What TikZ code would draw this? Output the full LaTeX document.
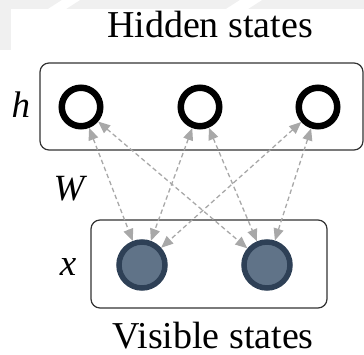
\documentclass[tikz,border=0pt]{standalone}
\usepackage{fontspec}
\setmainfont{Liberation Serif}
\newfontfamily\labelface{Liberation Serif}
\usetikzlibrary{arrows.meta}
\definecolor{visfill}{RGB}{96,115,136}
\definecolor{visedge}{RGB}{46,64,86}
\definecolor{linkgray}{RGB}{168,168,168}
\definecolor{haze}{RGB}{240,240,240}
\begin{document}
\begin{tikzpicture}[x=1pt,y=-1pt,
  hidden/.style={circle,draw=black,line width=6.5pt,minimum size=38.5pt,inner sep=0pt},
  visible/.style={circle,draw=visedge,fill=visfill,line width=5.5pt,minimum size=46pt,inner sep=0pt},
  layerbox/.style={draw=black!80,line width=1.2pt,rounded corners=9pt},
  link/.style={draw=linkgray,line width=1.3pt,dash pattern=on 4.5pt off 3pt,
    {Triangle[length=12pt,width=10pt]}-{Triangle[length=12pt,width=10pt]}},
  title/.style={font=\labelface\fontsize{38}{42}\selectfont,anchor=base},
  sym/.style={font=\labelface\fontsize{37}{42}\selectfont\itshape,anchor=base}]
\useasboundingbox (0,0) rectangle (364,355);
% faint background bands along the top and left edges
\fill[haze] (0,0) rectangle (364,9);
\fill[haze] (0,0) rectangle (11,50);
\fill[white] (62,0) -- (80,0) -- (66,9) -- (48,9) -- cycle;
\fill[white] (240,0) -- (262,0) -- (248,9) -- (226,9) -- cycle;
% layer frames
\draw[layerbox] (40,63) rectangle (363,150);
\draw[layerbox] (91,220) rectangle (327,308);
% units
\node[hidden] (h1) at (81,107) {};
\node[hidden] (h2) at (200,107) {};
\node[hidden] (h3) at (318,107) {};
\node[visible] (v1) at (142,265) {};
\node[visible] (v2) at (267,265) {};
% symmetric weights
\foreach \h in {h1,h2,h3}
  \foreach \v in {v1,v2}
    \path[link] (\h) -- (\v);
% labels
\node[title] (ht) at (210,38) {Hidden states};
\node[title] (vt) at (213,348) {Visible states};
\node[sym] (hl) at (21,118) {h};
\node[sym] (wl) at (69,201) {W};
\node[sym] (xl) at (68,276) {x};
\end{tikzpicture}
\end{document}
